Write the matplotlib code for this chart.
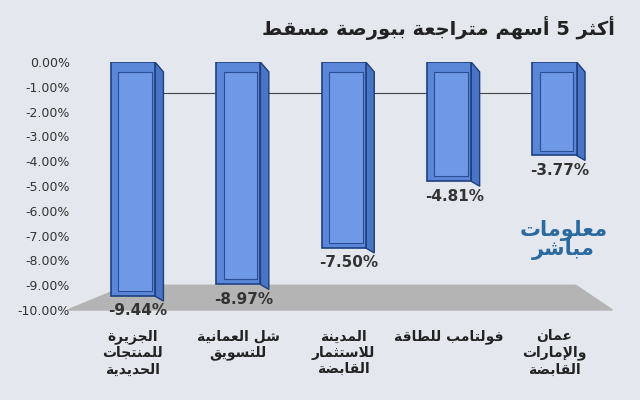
import matplotlib.pyplot as plt
import numpy as np
from matplotlib.patches import Polygon

# --- minimal Arabic shaping (matplotlib has no shaping/bidi) ---
DUAL = {'ئ': 0xFE89, 'ب': 0xFE8F, 'ت': 0xFE95, 'ث': 0xFE99, 'ج': 0xFE9D, 'ح': 0xFEA1,
        'خ': 0xFEA5, 'س': 0xFEB1, 'ش': 0xFEB5, 'ص': 0xFEB9, 'ض': 0xFEBD, 'ط': 0xFEC1,
        'ظ': 0xFEC5, 'ع': 0xFEC9, 'غ': 0xFECD, 'ف': 0xFED1, 'ق': 0xFED5, 'ك': 0xFED9,
        'ل': 0xFEDD, 'م': 0xFEE1, 'ن': 0xFEE5, 'ه': 0xFEE9, 'ي': 0xFEF1}
RIGHT = {'آ': 0xFE81, 'أ': 0xFE83, 'ؤ': 0xFE85, 'إ': 0xFE87, 'ا': 0xFE8D, 'ة': 0xFE93,
         'د': 0xFEA9, 'ذ': 0xFEAB, 'ر': 0xFEAD, 'ز': 0xFEAF, 'و': 0xFEED, 'ى': 0xFEEF}
LAMALEF = {'ا': 0xFEFB, 'أ': 0xFEF7, 'إ': 0xFEF9, 'آ': 0xFEF5}


def shape(text):
    chars = list(text)
    out = []
    i = 0
    while i < len(chars):
        c = chars[i]
        prev = chars[i - 1] if i > 0 else ''
        pj = prev in DUAL
        if c == 'ل' and i + 1 < len(chars) and chars[i + 1] in LAMALEF:
            out.append(chr(LAMALEF[chars[i + 1]] + (1 if pj else 0)))
            i += 2
            continue
        nxt = chars[i + 1] if i + 1 < len(chars) else ''
        if c in DUAL:
            nj = nxt in DUAL or nxt in RIGHT
            f = 3 if (pj and nj) else 1 if pj else 2 if nj else 0
            out.append(chr(DUAL[c] + f))
        elif c in RIGHT:
            out.append(chr(RIGHT[c] + (1 if pj else 0)))
        else:
            out.append(c)
        i += 1
    return ''.join(out)[::-1]


def ar(text):
    return '\n'.join(shape(line) for line in text.split('\n'))


title = 'أكثر 5 أسهم متراجعة ببورصة مسقط'
categories = ['الجزيرة\nللمنتجات\nالحديدية', 'شل العمانية\nللتسويق',
              'المدينة\nللاستثمار\nالقابضة', 'فولتامب للطاقة', 'عمان\nوالإمارات\nالقابضة']
values = [-9.44, -8.97, -7.50, -4.81, -3.77]

plt.rcParams['font.family'] = ['DejaVu Sans']
fig = plt.figure(figsize=(6.4, 4.0), dpi=100)
fig.patch.set_facecolor('#e4e8ee')
ax = fig.add_axes([0.117, 0.225, 0.84, 0.62])
ax.set_facecolor('none')

x = np.arange(len(values))
w = 0.42
d = 0.08  # depth offset
floor = Polygon([[-0.62, -10], [4.55, -10], [4.2, -9.0], [-0.05, -9.0]],
                closed=True, color='#b4b4b4', zorder=1, clip_on=False)
ax.add_patch(floor)
ax.plot([-0.1, 4.2], [-1.25, -1.25], color='#444444', lw=0.8, zorder=1)

bars = ax.bar(x, values, width=w, color='#5b87d8', edgecolor='#1f3f80', lw=1.2, zorder=3)
for b, v in zip(bars, values):
    x0 = b.get_x()
    x1 = x0 + b.get_width()
    side = Polygon([[x1, 0], [x1 + d, -0.4], [x1 + d, v - 0.2], [x1, v]],
                   closed=True, facecolor='#4a74c4', edgecolor='#1f3f80', lw=1, zorder=2)
    ax.add_patch(side)
    ax.add_patch(Polygon([[x0 + 0.07, -0.4], [x1 - 0.03, -0.4], [x1 - 0.03, v + 0.2],
                          [x0 + 0.07, v + 0.2]], closed=True, facecolor='#6f99e6',
                         edgecolor='#2a4c94', lw=0.8, zorder=4))
    ax.text(b.get_x() + w / 2 + 0.05, v - 0.6, f'{v:.2f}%', ha='center', va='center',
            fontsize=11, fontweight='bold', color='#333333', zorder=5)

ax.set_xlim(-0.55, 4.55)
ax.set_ylim(-10, 0)
ax.set_yticks(np.arange(-10, 0.1, 1))
ax.set_yticklabels([f'{t:.2f}%' for t in np.arange(-10, 0.1, 1)], fontsize=9, color='#333333')
ax.set_xticks(x)
ax.set_xticklabels([ar(c) for c in categories], fontsize=10, fontweight='bold',
                   color='#222222', linespacing=1.2)
ax.tick_params(length=0, axis='both')
ax.tick_params(axis='x', pad=14)
for s in ax.spines.values():
    s.set_visible(False)

fig.text(0.96, 0.93, ar(title), ha='right', va='center', fontsize=14, fontweight='bold',
         color='#222222')
fig.text(0.88, 0.4, ar('معلومات\nمباشر'), ha='center', va='center', fontsize=15,
         fontweight='bold', color='#2a6aa0', linespacing=0.9)

fig.savefig('out.png', dpi=100, facecolor=fig.get_facecolor())
